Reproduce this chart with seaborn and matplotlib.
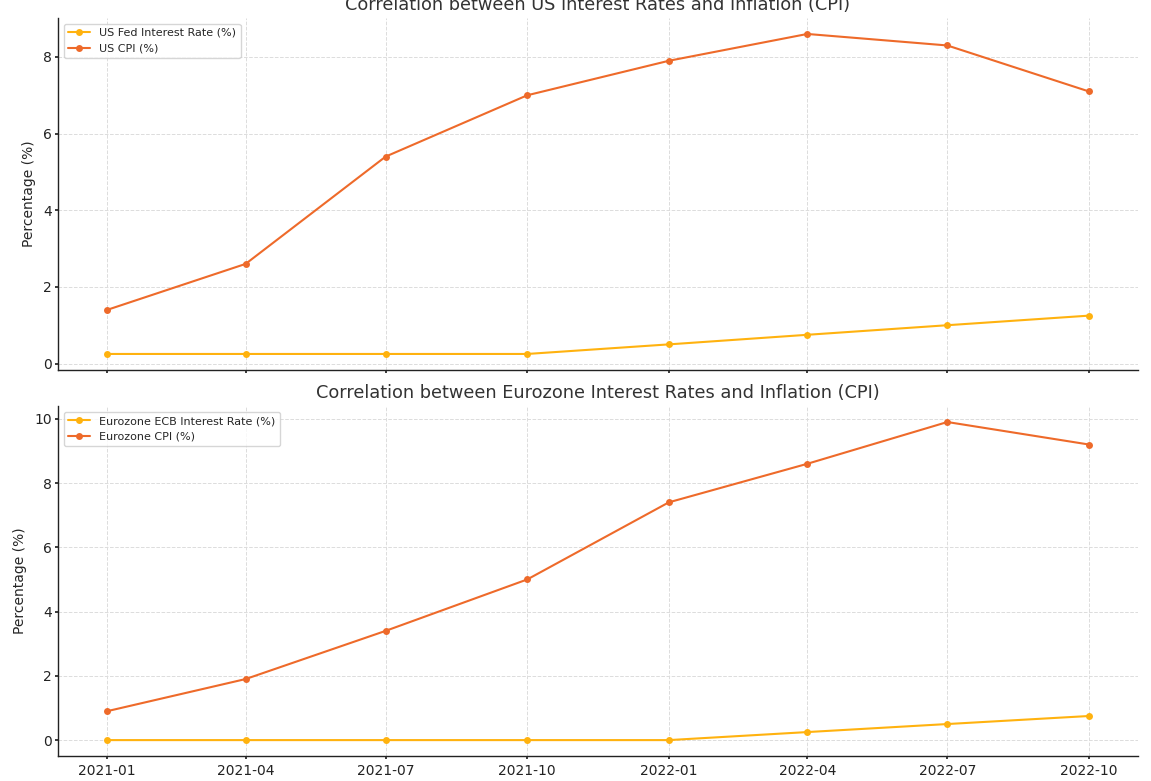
import matplotlib
matplotlib.use("Agg")
import matplotlib.pyplot as plt
import matplotlib.dates as mdates
import seaborn as sns
import pandas as pd

dates = ["2021-01-01", "2021-04-01", "2021-07-01", "2021-10-01",
         "2022-01-01", "2022-04-01", "2022-07-01", "2022-10-01"]
us_fed_rate = [0.25, 0.25, 0.25, 0.25, 0.5, 0.75, 1.0, 1.25]
us_cpi = [1.4, 2.6, 5.4, 7.0, 7.9, 8.6, 8.3, 7.1]
ecb_rate = [0.0, 0.0, 0.0, 0.0, 0.0, 0.25, 0.5, 0.75]
ez_cpi = [0.9, 1.9, 3.4, 5.0, 7.4, 8.6, 9.9, 9.2]

rate_color = "#FFB20F"
cpi_color = "#EE6A2A"

sns.set_theme(style="whitegrid")
plt.rcParams["font.family"] = ["DejaVu Sans"]

df = pd.DataFrame({
    "Date": pd.to_datetime(dates),
    "us_fed": us_fed_rate, "us_cpi": us_cpi,
    "ecb": ecb_rate, "ez_cpi": ez_cpi,
})

fig = plt.figure(figsize=(11.51, 7.81), dpi=100)
ax1 = fig.add_axes([0.0504, 0.5263, 0.9383, 0.4507])
ax2 = fig.add_axes([0.0504, 0.0320, 0.9383, 0.4480], sharex=ax1)

def style(ax):
    ax.set_facecolor("white")
    ax.grid(True, linestyle="--", color="#dcdcdc", linewidth=0.7)
    for s in ["top", "right"]:
        ax.spines[s].set_visible(False)
    for s in ["left", "bottom"]:
        ax.spines[s].set_color("#222222")
        ax.spines[s].set_linewidth(1.0)
    ax.tick_params(axis="both", labelsize=10, colors="#222222", length=2.5, pad=2,
                   direction="out", bottom=True, left=True)
    ax.tick_params(axis="x", pad=3)

sns.lineplot(data=df, x="Date", y="us_fed", ax=ax1, color=rate_color, marker="o",
             markersize=5, markeredgewidth=0, linewidth=1.5, label="US Fed Interest Rate (%)")
sns.lineplot(data=df, x="Date", y="us_cpi", ax=ax1, color=cpi_color, marker="o",
             markersize=5, markeredgewidth=0, linewidth=1.5, label="US CPI (%)")
ax1.set_title("Correlation between US Interest Rates and Inflation (CPI)", fontsize=12.8, color="#333333")
ax1.set_ylabel("Percentage (%)", fontsize=10, labelpad=5)
ax1.set_xlabel("")
style(ax1)
ax1.tick_params(axis="x", labelbottom=False)
ax1.legend(loc="upper left", fontsize=8, frameon=True)

sns.lineplot(data=df, x="Date", y="ecb", ax=ax2, color=rate_color, marker="o",
             markersize=5, markeredgewidth=0, linewidth=1.5, label="Eurozone ECB Interest Rate (%)")
sns.lineplot(data=df, x="Date", y="ez_cpi", ax=ax2, color=cpi_color, marker="o",
             markersize=5, markeredgewidth=0, linewidth=1.5, label="Eurozone CPI (%)")
ax2.set_title("Correlation between Eurozone Interest Rates and Inflation (CPI)", fontsize=12.8, color="#333333")
ax2.set_ylabel("Percentage (%)", fontsize=10, labelpad=5)
ax2.set_xlabel("Date", fontsize=10)
style(ax2)
ax2.legend(loc="upper left", fontsize=8, frameon=True)

ax2.xaxis.set_major_locator(mdates.MonthLocator(bymonth=[1, 4, 7, 10]))
ax2.xaxis.set_major_formatter(mdates.DateFormatter("%Y-%m"))

fig.savefig("out.png", dpi=100)
